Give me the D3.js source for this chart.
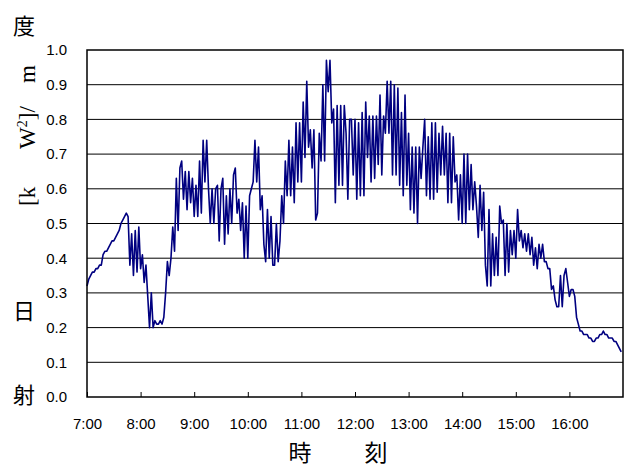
<!DOCTYPE html>
<html>
<head>
<meta charset="utf-8">
<script src="https://cdn.jsdelivr.net/npm/d3@7"></script>
<style>
body{margin:0;background:#fff;}
</style>
</head>
<body>
<svg id="chart" width="627" height="467"></svg>
<script>

// irradiance [kW/m2], one value every 2 minutes, grouped by hour
var hour07 = [0.32,0.34,0.35,0.36,0.36,0.37,0.37,0.38,0.38,0.41,0.42,0.42,0.43,0.44,0.45,0.45,0.46,0.47,0.48,0.50,0.51,0.52,0.53,0.52,0.38,0.47,0.35,0.48,0.36,0.49];
var hour08 = [0.37,0.41,0.33,0.38,0.29,0.20,0.30,0.20,0.22,0.21,0.21,0.22,0.21,0.23,0.30,0.39,0.35,0.40,0.49,0.42,0.63,0.48,0.66,0.68,0.57,0.65,0.54,0.65,0.56,0.63];
var hour09 = [0.52,0.61,0.52,0.68,0.53,0.74,0.62,0.74,0.60,0.50,0.60,0.50,0.60,0.61,0.45,0.60,0.63,0.44,0.58,0.47,0.60,0.50,0.64,0.66,0.53,0.57,0.48,0.56,0.40,0.55];
var hour10 = [0.40,0.58,0.60,0.62,0.74,0.62,0.72,0.54,0.58,0.44,0.39,0.54,0.40,0.52,0.38,0.38,0.50,0.39,0.45,0.58,0.50,0.68,0.58,0.74,0.58,0.72,0.56,0.79,0.62,0.79];
var hour11 = [0.62,0.85,0.69,0.91,0.72,0.77,0.66,0.77,0.51,0.53,0.76,0.68,0.90,0.68,0.97,0.88,0.97,0.79,0.83,0.56,0.84,0.61,0.84,0.61,0.84,0.76,0.57,0.80,0.80,0.64];
var hour12 = [0.80,0.57,0.79,0.58,0.82,0.58,0.85,0.69,0.81,0.62,0.81,0.63,0.81,0.67,0.87,0.64,0.81,0.76,0.91,0.76,0.91,0.64,0.90,0.64,0.89,0.61,0.82,0.58,0.87,0.61];
var hour13 = [0.76,0.54,0.72,0.53,0.72,0.50,0.72,0.63,0.72,0.80,0.58,0.75,0.57,0.79,0.57,0.79,0.59,0.76,0.64,0.78,0.64,0.76,0.56,0.76,0.56,0.75,0.62,0.64,0.51,0.64];
var hour14 = [0.50,0.70,0.50,0.70,0.54,0.67,0.54,0.62,0.55,0.46,0.61,0.48,0.59,0.38,0.32,0.54,0.32,0.47,0.35,0.46,0.35,0.55,0.50,0.51,0.35,0.50,0.36,0.48,0.41,0.48];
var hour15 = [0.40,0.54,0.45,0.48,0.43,0.47,0.42,0.47,0.41,0.46,0.38,0.43,0.37,0.44,0.40,0.44,0.39,0.39,0.37,0.37,0.31,0.32,0.28,0.26,0.26,0.35,0.26,0.35,0.37,0.33];
var hour16 = [0.29,0.31,0.31,0.29,0.23,0.21,0.19,0.19,0.18,0.18,0.18,0.17,0.17,0.16,0.16,0.17,0.17,0.18,0.18,0.19,0.18,0.18,0.17,0.17,0.17,0.16,0.16,0.15,0.14,0.13];

var startTime = "7:00";
var endTime = "17:00";
var stepMinutes = 2;

var yTicks = [0.0,0.1,0.2,0.3,0.4,0.5,0.6,0.7,0.8,0.9,1.0];
var xTickLabels = ["7:00","8:00","9:00","10:00","11:00","12:00","13:00","14:00","15:00","16:00"];

var parseTime = d3.timeParse("%H:%M");
var t0 = parseTime(startTime);
var series = [].concat(hour07,hour08,hour09,hour10,hour11,hour12,hour13,hour14,hour15,hour16);
var points = series.map(function(v,i){
	return {t: d3.timeMinute.offset(t0, i*stepMinutes), v: v};
});

var plot = {left:87, top:50, right:623, bottom:397};
var numFont = "Arial, 'Liberation Sans', sans-serif";
var cjkFont = "'Noto Sans CJK JP', sans-serif";

var svg = d3.select("#chart");
svg.append("rect").attr("width",627).attr("height",467).attr("fill","#fff");

var x = d3.scaleTime()
	.domain([t0, parseTime(endTime)])
	.range([plot.left, plot.right]);
var y = d3.scaleLinear()
	.domain([0,1])
	.range([plot.bottom, plot.top]);

// horizontal grid
svg.append("g").selectAll("line")
	.data(yTicks.slice(1,-1))
	.enter().append("line")
	.attr("x1",plot.left).attr("x2",plot.right)
	.attr("y1",function(d){return y(d)}).attr("y2",function(d){return y(d)})
	.attr("stroke","#000").attr("stroke-width",1);

// y axis labels
var yAxis = svg.append("g")
	.attr("transform","translate("+plot.left+",0)")
	.call(d3.axisLeft(y).tickValues(yTicks).tickFormat(d3.format(".1f")).tickSize(0).tickPadding(20));
yAxis.select(".domain").remove();
yAxis.selectAll("text").style("font-family",numFont).style("font-size","15px").attr("fill","#000");

// x axis, ticks pointing into the plot
var xAxis = svg.append("g")
	.attr("transform","translate(0,"+plot.bottom+")")
	.call(d3.axisBottom(x)
		.tickValues(xTickLabels.map(parseTime))
		.tickFormat(function(d,i){return xTickLabels[i]})
		.tickSizeInner(-5).tickSizeOuter(0).tickPadding(21));
xAxis.select(".domain").remove();
xAxis.selectAll("line").attr("stroke","#000");
xAxis.selectAll("text").style("font-family",numFont).style("font-size","15px").attr("fill","#000");

// data line
var line = d3.line()
	.x(function(d){return x(d.t)})
	.y(function(d){return y(d.v)});
svg.append("path")
	.datum(points)
	.attr("d",line)
	.attr("fill","none")
	.attr("stroke","#000080")
	.attr("stroke-width",1.6)
	.attr("stroke-linejoin","round");

// plot frame
svg.append("rect")
	.attr("x",plot.left).attr("y",plot.top)
	.attr("width",plot.right-plot.left).attr("height",plot.bottom-plot.top)
	.attr("fill","none").attr("stroke","#000").attr("stroke-width",1.5);

// y title: upright kanji with the unit rotated between them
var yTitle = svg.append("g").attr("fill","#000");
[["度",26],["日",311],["射",395]].forEach(function(c){
	yTitle.append("text")
		.attr("x",24).attr("y",c[1])
		.attr("dy","0.36em")
		.attr("text-anchor","middle")
		.style("font-family",cjkFont).style("font-size","22px")
		.text(c[0]);
});
var unit = yTitle.append("text")
	.attr("transform","translate(35,0) rotate(-90)")
	.style("font-family","'Liberation Serif','Times New Roman',serif")
	.style("font-size","23px");
unit.append("tspan").attr("x",-206).text("[k");
unit.append("tspan").attr("x",-149).text("W");
unit.append("tspan").attr("dy",-8).style("font-size","14px").text("2");
unit.append("tspan").attr("dy",8).text("]/");
unit.append("tspan").attr("x",-83).text("m");

// x title
svg.append("g").selectAll("text")
	.data([["時",300],["刻",376]])
	.enter().append("text")
	.attr("x",function(d){return d[1]}).attr("y",461)
	.attr("text-anchor","middle")
	.style("font-family",cjkFont).style("font-size","23px")
	.text(function(d){return d[0]});

</script>
</body>
</html>
